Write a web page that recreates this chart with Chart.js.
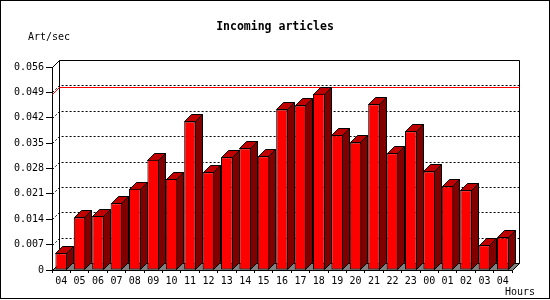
<!DOCTYPE html>
<html><head><meta charset="utf-8">
<script src="https://cdn.jsdelivr.net/npm/chart.js@4/dist/chart.umd.min.js"></script>
<style>html,body{margin:0;padding:0;background:#fff;}canvas{display:block;}</style>
</head><body>
<canvas id="c" width="550" height="300"></canvas>
<script>
const hours = ['04','05','06','07','08','09','10','11','12','13','14','15','16','17','18','19','20','21','22','23','00','01','02','03','04'];
const rates = [0.0046,0.0145,0.0149,0.0184,0.0224,0.0304,0.0251,0.0410,0.0270,0.0311,0.0336,0.0314,0.0443,0.0454,0.0486,0.0372,0.0352,0.0457,0.0322,0.0383,0.0272,0.0231,0.0220,0.0068,0.0090];
const yTickValues = [0,0.007,0.014,0.021,0.028,0.035,0.042,0.049,0.056];
const yTickLabels = ['0','0.007','0.014','0.021','0.028','0.035','0.042','0.049','0.056'];
const chartTitle = 'Incoming articles';
const yUnit = 'Art/sec';
const xUnit = 'Hours';

const D = 7;
const MONO = '"DejaVu Sans Mono","Liberation Mono",monospace';
const px = v => Math.round(v) + 0.5;

const bars3d = {
  id: 'bars3d',
  beforeDraw(chart) {
    const ctx = chart.ctx;
    ctx.save();
    ctx.fillStyle = '#fff';
    ctx.fillRect(0, 0, chart.width, chart.height);
    ctx.strokeStyle = '#000';
    ctx.lineWidth = 1;
    ctx.strokeRect(0.5, 0.5, chart.width - 1, chart.height - 2);
    ctx.restore();
  },
  beforeDatasetsDraw(chart) {
    const ctx = chart.ctx, a = chart.chartArea, y = chart.scales.y;
    const L = px(a.left), R = px(a.right), T = px(a.top), B = px(a.bottom);
    ctx.save();
    ctx.lineWidth = 1;
    // floor
    ctx.beginPath();
    ctx.moveTo(L, B); ctx.lineTo(R, B); ctx.lineTo(R + D, B - D); ctx.lineTo(L + D, B - D); ctx.closePath();
    ctx.fillStyle = '#808080'; ctx.fill();
    ctx.strokeStyle = '#000'; ctx.stroke();
    // back plane frame
    ctx.beginPath();
    ctx.moveTo(L, T); ctx.lineTo(L + D, T - D);
    ctx.moveTo(L + D, B - D); ctx.lineTo(L + D, T - D); ctx.lineTo(R + D, T - D); ctx.lineTo(R + D, B - D);
    ctx.stroke();
    // dotted gridlines on back plane
    ctx.setLineDash([2, 2]);
    yTickValues.forEach(v => {
      if (v === yTickValues[0] || v === yTickValues[yTickValues.length - 1]) return;
      const yy = px(y.getPixelForValue(v));
      ctx.beginPath();
      ctx.moveTo(L, yy); ctx.lineTo(L + D, yy - D); ctx.lineTo(R + D, yy - D);
      ctx.stroke();
    });
    ctx.setLineDash([]);
    // max line
    const maxV = Math.max(...rates);
    const my = px(y.getPixelForValue(maxV));
    ctx.strokeStyle = '#ff0000';
    ctx.beginPath();
    ctx.moveTo(L, my); ctx.lineTo(L + D, my - D); ctx.lineTo(R + D, my - D);
    ctx.stroke();
    // bar sides and tops
    ctx.strokeStyle = '#000';
    const meta = chart.getDatasetMeta(0);
    meta.data.forEach(bar => {
      const p = bar.getProps(['x', 'y', 'base', 'width'], true);
      const x0 = Math.round(p.x - p.width / 2) + 0.5;
      const x1 = Math.round(p.x + p.width / 2) - 0.5;
      const t = Math.round(p.y) + 0.5;
      const b = Math.round(p.base) - 0.5;
      ctx.beginPath();
      ctx.moveTo(x1, t); ctx.lineTo(x1 + D, t - D); ctx.lineTo(x1 + D, b - D); ctx.lineTo(x1, b); ctx.closePath();
      ctx.fillStyle = '#800000'; ctx.fill(); ctx.stroke();
      ctx.beginPath();
      ctx.moveTo(x0, t); ctx.lineTo(x0 + D, t - D); ctx.lineTo(x1 + D, t - D); ctx.lineTo(x1, t); ctx.closePath();
      ctx.fillStyle = '#c00000'; ctx.fill(); ctx.stroke();
    });
    ctx.restore();
  },
  afterDraw(chart) {
    const ctx = chart.ctx;
    ctx.save();
    ctx.fillStyle = '#000';
    ctx.font = '10px ' + MONO;
    ctx.textBaseline = 'middle';
    ctx.textAlign = 'left';
    ctx.fillText(yUnit, 28, 37.5);
    ctx.fillText(xUnit, 505, 292);
    ctx.restore();
  }
};

new Chart(document.getElementById('c'), {
  type: 'bar',
  data: {
    labels: hours,
    datasets: [{
      data: rates,
      backgroundColor: '#ff0000',
      borderColor: '#000',
      borderWidth: 1,
      borderSkipped: false,
      barPercentage: 0.63,
      categoryPercentage: 1
    }]
  },
  options: {
    responsive: false,
    animation: false,
    layout: { padding: 0 },
    plugins: {
      legend: { display: false },
      tooltip: { enabled: false },
      title: {
        display: true,
        text: chartTitle,
        color: '#000',
        font: { family: MONO, size: 11.5, weight: 'bold', lineHeight: 1.2 },
        padding: { top: 20, bottom: 33.2 }
      }
    },
    scales: {
      x: {
        grid: { display: true, drawOnChartArea: false, drawTicks: true, tickLength: 3, color: '#000', offset: true },
        border: { display: true, color: '#000' },
        ticks: { color: '#000', font: { family: MONO, size: 10 }, padding: 2, maxRotation: 0, autoSkip: false },
        afterFit: s => { s.height = 30; }
      },
      y: {
        min: 0,
        max: 0.056,
        afterBuildTicks: s => { s.ticks = yTickValues.map(v => ({ value: v })); },
        grid: { display: true, drawOnChartArea: false, drawTicks: true, tickLength: 6, color: '#000' },
        border: { display: true, color: '#000' },
        ticks: { color: '#000', font: { family: MONO, size: 10 }, padding: 2,
          callback: (v, i) => yTickLabels[i] },
        afterFit: s => { s.width = 52; }
      },
      yRight: {
        type: 'linear',
        position: 'right',
        display: true,
        min: 0,
        max: 0.056,
        grid: { display: false },
        border: { display: false },
        ticks: { display: false },
        afterFit: s => { s.width = 38; }
      }
    }
  },
  plugins: [bars3d]
});
</script>
</body></html>
